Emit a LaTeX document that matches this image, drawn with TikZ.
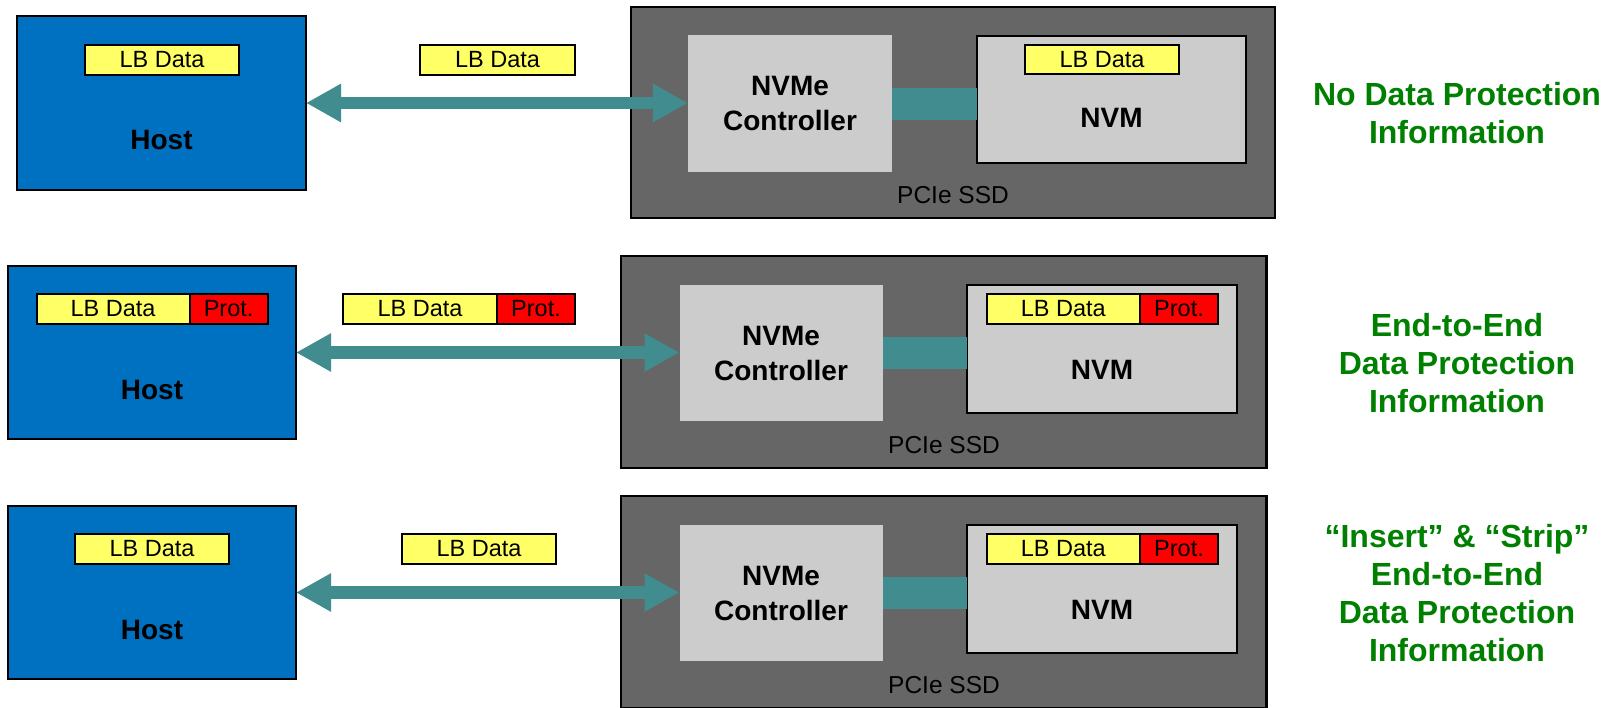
\documentclass[tikz,border=0pt]{standalone}
\usepackage{fontspec}
\setmainfont{Liberation Sans}
\usetikzlibrary{arrows.meta}
\definecolor{hostblue}{HTML}{0070C0}
\definecolor{teal2}{HTML}{408C8F}
\definecolor{ssdgray}{HTML}{666666}
\definecolor{lightg}{HTML}{CCCCCC}
\definecolor{lbyellow}{HTML}{FFFF66}
\definecolor{protred}{HTML}{FF0000}
\definecolor{labgreen}{HTML}{008000}
\tikzset{
  box/.style={anchor=north west, inner sep=0pt, outer sep=0pt},
  hostbox/.style={box, fill=hostblue, draw=black, line width=2pt},
  ssdbox/.style={box, fill=ssdgray, draw=black, line width=2.5pt},
  ctrlbox/.style={box, fill=lightg},
  nvmbox/.style={box, fill=lightg, draw=black, line width=2pt},
  lbbox/.style={box, fill=lbyellow, draw=black, line width=1.8pt, minimum height=30pt,
    font=\fontsize{23.5}{27}\selectfont},
  protbox/.style={box, fill=protred, draw=black, line width=1.8pt, minimum height=30pt, minimum width=78pt,
    font=\fontsize{23.5}{27}\selectfont},
  bigtxt/.style={font=\bfseries\fontsize{28}{35}\selectfont, align=center, inner sep=0pt},
  ssdtxt/.style={font=\fontsize{24.5}{28}\selectfont, inner sep=0pt},
  greentxt/.style={font=\bfseries\fontsize{32}{38}\selectfont, text=labgreen, align=center, inner sep=0pt},
  bigarrow/.style={draw=teal2, line width=12.6pt, {Triangle[length=35pt,width=36pt]}-{Triangle[length=35pt,width=36pt]}},
  linkbar/.style={draw=teal2, line width=32pt},
}
\begin{document}
\begin{tikzpicture}[x=1pt,y=-1pt]
\useasboundingbox (0,0) rectangle (1614,707);
\clip (0,0) rectangle (1614,707);

% ---------------- Row 1 ----------------
\node[hostbox, minimum width=289pt, minimum height=174pt] (host1) at (17,16) {};
\node[lbbox, minimum width=154pt] (hld1) at (85,45) {LB Data};
\node[bigtxt] (ht1) at (161.5,140) {Host};
\node[lbbox, minimum width=155pt] (mld1) at (420,45) {LB Data};
\node[ssdbox, minimum width=644pt, minimum height=211pt] (ssd1) at (631,7) {};
\node[ctrlbox, minimum width=204pt, minimum height=137pt] (ctrl1) at (688,35) {};
\node[bigtxt] (ct1) at (ctrl1.center) {NVMe\\Controller};
\node[nvmbox, minimum width=269pt, minimum height=127pt] (nvm1) at (977,36) {};
\node[lbbox, minimum width=154pt, minimum height=29pt] (nld1) at (1025,45) {LB Data};
\node[bigtxt] (nt1) at (1111.5,118) {NVM};
\node[ssdtxt] (st1) at (953,195) {PCIe SSD};
\draw[bigarrow] (host1.east) -- (host1.east -| ctrl1.west);
\draw[linkbar] (ctrl1.east) -- (ctrl1.east -| nvm1.west);
\node[greentxt] (g1) at (1457,113) {No Data Protection\\Information};

% ---------------- Row 2 ----------------
\node[hostbox, minimum width=288pt, minimum height=173pt] (host2) at (8,266) {};
\node[lbbox, minimum width=153pt] (hld2) at (36.6,294) {LB Data};
\node[protbox] (hpr2) at (hld2.north east) {Prot.};
\node[bigtxt] (ht2) at (152,390) {Host};
\node[lbbox, minimum width=154pt] (mld2) at (343,294) {LB Data};
\node[protbox] (mpr2) at (mld2.north east) {Prot.};
\node[ssdbox, minimum width=645.5pt, minimum height=212pt] (ssd2) at (621,256) {};
\node[ctrlbox, minimum width=203pt, minimum height=136pt] (ctrl2) at (679.5,285) {};
\node[bigtxt] (ct2) at (ctrl2.center) {NVMe\\Controller};
\node[nvmbox, minimum width=270pt, minimum height=128pt] (nvm2) at (967,285) {};
\node[lbbox, minimum width=153.4pt] (nld2) at (986.6,294) {LB Data};
\node[protbox] (npr2) at (nld2.north east) {Prot.};
\node[bigtxt] (nt2) at (1102,370) {NVM};
\node[ssdtxt] (st2) at (944,445) {PCIe SSD};
\draw[bigarrow] (host2.east) -- (host2.east -| ctrl2.west);
\draw[linkbar] (ctrl2.east) -- (ctrl2.east -| nvm2.west);
\node[greentxt] (g2) at (1457,363) {End-to-End\\Data Protection\\Information};

% ---------------- Row 3 ----------------
\node[hostbox, minimum width=288pt, minimum height=173pt] (host3) at (8,506) {};
\node[lbbox, minimum width=154pt] (hld3) at (75,534) {LB Data};
\node[bigtxt] (ht3) at (152,630) {Host};
\node[lbbox, minimum width=154pt] (mld3) at (402,534) {LB Data};
\node[ssdbox, minimum width=645.5pt, minimum height=212pt] (ssd3) at (621,496) {};
\node[ctrlbox, minimum width=203pt, minimum height=136pt] (ctrl3) at (679.5,525) {};
\node[bigtxt] (ct3) at (ctrl3.center) {NVMe\\Controller};
\node[nvmbox, minimum width=270pt, minimum height=128pt] (nvm3) at (967,525) {};
\node[lbbox, minimum width=153.4pt] (nld3) at (986.6,534) {LB Data};
\node[protbox] (npr3) at (nld3.north east) {Prot.};
\node[bigtxt] (nt3) at (1102,610) {NVM};
\node[ssdtxt] (st3) at (944,685) {PCIe SSD};
\draw[bigarrow] (host3.east) -- (host3.east -| ctrl3.west);
\draw[linkbar] (ctrl3.east) -- (ctrl3.east -| nvm3.west);
\node[greentxt] (g3) at (1457,593) {“Insert” \& “Strip”\\End-to-End\\Data Protection\\Information};
\end{tikzpicture}
\end{document}
